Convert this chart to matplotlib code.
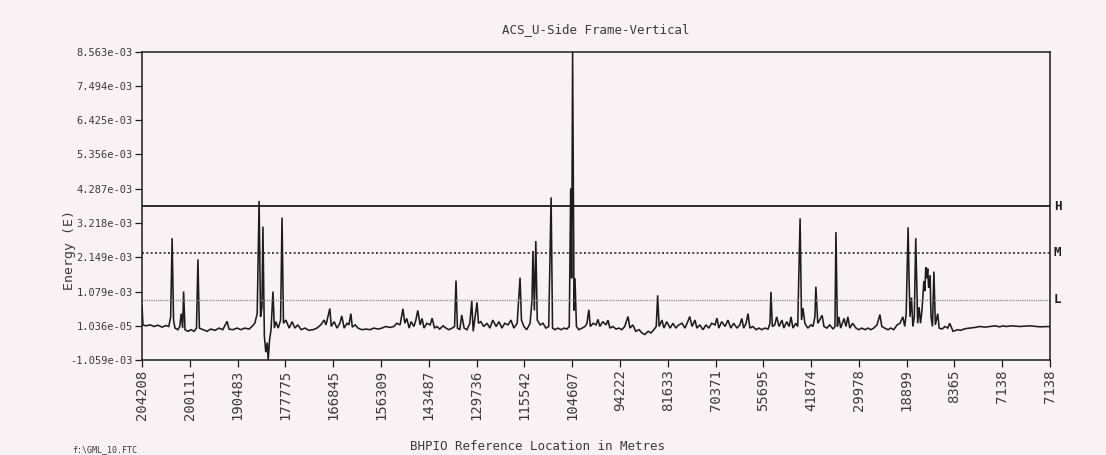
import matplotlib
matplotlib.use("Agg")
import matplotlib.pyplot as plt
import numpy as np

# ---------------- data ----------------
title = "ACS_U-Side Frame-Vertical"
x_tick_labels = ["204208", "200111", "190483", "177775", "166845", "156309",
                 "143487", "129736", "115542", "104607", "94222", "81633",
                 "70371", "55695", "41874", "29978", "18899", "8365",
                 "7138", "7138"]
y_tick_values = [-1.059e-03, 1.036e-05, 1.079e-03, 2.149e-03, 3.218e-03,
                 4.287e-03, 5.356e-03, 6.425e-03, 7.494e-03, 8.563e-03]
y_tick_labels = ["-1.059e-03", "1.036e-05", "1.079e-03", "2.149e-03",
                 "3.218e-03", "4.287e-03", "5.356e-03", "6.425e-03",
                 "7.494e-03", "8.563e-03"]
threshold_names = ["H", "M", "L"]
threshold_values = [3.75e-03, 2.30e-03, 0.83e-03]

# position along track (in units of x-tick spacing) and energy (x1e-3)
position = [
    0.00, 0.02, 0.08, 0.17, 0.25, 0.33, 0.42, 0.50, 0.56, 0.60, 0.63, 0.66,
    0.69, 0.75, 0.79, 0.82, 0.85, 0.87, 0.90, 0.96, 1.03, 1.09, 1.14, 1.17,
    1.20,
    1.28, 1.36, 1.44, 1.53, 1.61, 1.69, 1.78, 1.82, 1.90, 1.99, 2.07, 2.15,
    2.24, 2.30, 2.36, 2.41, 2.45, 2.48, 2.51, 2.53, 2.56, 2.59, 2.62, 2.64,
    2.67, 2.70, 2.74, 2.77, 2.80, 2.85, 2.90, 2.93, 2.96, 3.01, 3.08, 3.14,
    3.20, 3.26,
    3.33, 3.41, 3.49, 3.58, 3.66, 3.74, 3.81, 3.85, 3.89, 3.93, 3.96, 4.02,
    4.08, 4.14, 4.18, 4.23, 4.29, 4.33, 4.37, 4.40, 4.46, 4.52, 4.60, 4.69,
    4.77, 4.85, 4.94, 5.02, 5.10, 5.19, 5.27, 5.33, 5.40, 5.46, 5.50, 5.54,
    5.59, 5.63, 5.69, 5.73, 5.77, 5.82, 5.86, 5.90, 5.96, 6.03, 6.07, 6.12,
    6.17, 6.23, 6.30, 6.36, 6.42, 6.49, 6.54, 6.57, 6.60,
    6.65, 6.69, 6.74, 6.80, 6.86, 6.90, 6.93, 6.97, 7.01, 7.04, 7.09, 7.15,
    7.22, 7.28, 7.34, 7.41, 7.47, 7.53, 7.59, 7.66, 7.72, 7.78, 7.85, 7.91,
    7.94, 7.99, 8.05, 8.12, 8.16, 8.18, 8.21, 8.24, 8.27, 8.33, 8.39, 8.45,
    8.51, 8.56, 8.59, 8.64, 8.70, 8.77, 8.83, 8.89, 8.94, 8.97, 8.99, 9.01,
    9.04, 9.06, 9.09,
    9.14, 9.21, 9.27, 9.31, 9.35, 9.38, 9.44, 9.50, 9.54, 9.58, 9.64, 9.71,
    9.75, 9.79, 9.85, 9.92, 9.98, 10.04, 10.10, 10.17, 10.21, 10.27, 10.33,
    10.40, 10.46, 10.52, 10.59, 10.65, 10.71, 10.76, 10.79, 10.82, 10.88,
    10.92, 10.98, 11.05, 11.11, 11.17, 11.23, 11.30, 11.36, 11.42, 11.46,
    11.51, 11.57, 11.61, 11.67, 11.74, 11.80, 11.86, 11.92, 11.99, 12.03,
    12.07, 12.13, 12.20, 12.26, 12.32, 12.38, 12.45, 12.51, 12.55, 12.59,
    12.64, 12.68, 12.72, 12.78, 12.85, 12.91,
    12.97, 13.03, 13.10, 13.14, 13.16, 13.19, 13.24, 13.28, 13.33, 13.39,
    13.43, 13.49, 13.54, 13.58, 13.62, 13.68, 13.72, 13.77, 13.80, 13.83,
    13.87, 13.93, 14.00, 14.04, 14.08, 14.10, 14.14, 14.18, 14.23, 14.27,
    14.33, 14.39, 14.46, 14.50, 14.52, 14.55, 14.58, 14.62, 14.69, 14.73,
    14.77, 14.81, 14.87, 14.94, 15.00, 15.06, 15.13, 15.19, 15.25, 15.31,
    15.38, 15.44, 15.48, 15.54, 15.61, 15.67, 15.73, 15.80, 15.86, 15.92,
    15.96, 15.99, 16.03, 16.05, 16.07, 16.10, 16.13, 16.16, 16.19, 16.23,
    16.26, 16.29, 16.32, 16.34, 16.36, 16.38, 16.40, 16.42, 16.44, 16.46,
    16.49, 16.51, 16.54, 16.57, 16.60, 16.65, 16.68, 16.74, 16.80, 16.86,
    16.90,
    16.97, 17.03, 17.07, 17.13, 17.20, 17.26, 17.32, 17.43, 17.53, 17.64,
    17.74, 17.85, 17.95, 18.01, 18.08, 18.20, 18.37, 18.58, 18.79, 19.00,
]
energy_e3 = [
    0.65, 0.05, 0.02, 0.05, 0.00, 0.04, -0.02, 0.03, 0.00, 0.30, 2.75, 0.20,
    -0.05, -0.10, 0.00, 0.40, -0.05, 1.09, -0.10, -0.15, -0.10, -0.15, -0.05, 2.09,
    -0.05,
    -0.10, -0.15, -0.08, -0.12, -0.05, -0.10, 0.16, -0.08, -0.10, -0.05, -0.10, -0.05,
    -0.08, 0.00, 0.10, 0.40, 3.91, 0.30, 0.60, 3.11, -0.30, -0.80, -0.50, -1.06,
    -0.40, -0.10, 1.09, -0.05, 0.15, -0.05, 0.20, 3.39, 0.10, 0.20, -0.05, 0.15,
    -0.05, 0.05,
    -0.10, -0.05, -0.12, -0.10, -0.05, 0.05, 0.20, 0.05, 0.30, 0.56, 0.00, 0.15,
    -0.05, 0.10, 0.33, -0.05, 0.10, 0.05, 0.40, -0.02, 0.05, -0.05, -0.10, -0.08,
    -0.10, -0.05, -0.08, -0.05, 0.00, -0.03, 0.00, 0.10, 0.05, 0.55, 0.10, 0.25,
    -0.05, 0.15, 0.00, 0.20, 0.50, 0.05, 0.25, -0.05, 0.10, 0.05, 0.26, -0.05,
    0.00, -0.08, 0.02, -0.05, -0.10, -0.05, 0.00, 1.43, -0.05,
    -0.10, 0.36, -0.05, -0.10, 0.10, 0.80, -0.15, 0.30, 0.75, 0.10, 0.15, 0.00,
    0.10, -0.05, 0.20, 0.00, 0.15, -0.05, 0.10, 0.05, 0.20, -0.05, 0.10, 1.52,
    0.20, 0.00, -0.10, 0.10, 0.80, 2.35, 0.50, 2.66, 0.20, 0.05, 0.10, -0.05,
    0.00, 4.02, -0.05, -0.10, -0.05, -0.10, -0.05, -0.08, 0.00, 4.30, 1.50, 8.56,
    0.50, 1.50, 0.00,
    -0.10, -0.05, 0.00, 0.10, 0.52, 0.00, 0.10, 0.05, 0.22, 0.00, 0.15, 0.05,
    0.20, -0.05, 0.00, -0.08, -0.05, -0.10, 0.00, 0.31, -0.05, 0.05, -0.15,
    -0.10, -0.20, -0.25, -0.15, -0.20, -0.10, 0.00, 0.97, 0.00, 0.20,
    -0.05, 0.15, -0.05, 0.10, -0.05, 0.05, 0.10, -0.05, 0.15, 0.31,
    0.00, 0.20, -0.05, 0.05, -0.10, 0.05, -0.05, 0.10, 0.05, 0.26,
    -0.05, 0.15, 0.00, 0.20, -0.05, 0.10, -0.05, 0.05, 0.25, -0.05,
    0.10, 0.40, -0.05, 0.00, -0.10, -0.05,
    -0.10, -0.05, -0.08, 0.10, 1.08, 0.00, 0.05, 0.30, 0.00, 0.20,
    -0.05, 0.15, 0.00, 0.30, -0.05, 0.10, 0.00, 3.37, 0.20, 0.57,
    0.10, -0.05, 0.05, 0.00, 0.30, 1.24, 0.10, 0.20, 0.35, 0.00,
    -0.05, 0.05, -0.08, 0.00, 2.94, 0.00, 0.30, -0.05, 0.25, 0.00,
    0.30, -0.05, 0.10, -0.05, -0.10, -0.05, -0.10, -0.05, -0.10, -0.05,
    0.05, 0.37, 0.00, -0.05, -0.10, -0.05, -0.10, 0.05, 0.10, 0.30,
    0.00, 0.40, 3.09, 1.50, 0.30, 0.90, 0.00, 0.30, 2.75, 0.10,
    0.60, 0.10, 0.50, 0.96, 1.40, 1.10, 1.85, 1.50, 1.80, 1.20,
    1.60, 0.30, 0.00, 1.71, 0.05, 0.40, -0.05, -0.08, 0.00, -0.05,
    0.10,
    -0.15, -0.12, -0.10, -0.12, -0.08, -0.06, -0.05, -0.03, 0.00, -0.02,
    0.00, 0.02, -0.01, 0.02, 0.00, 0.02, 0.00, 0.02, -0.01, 0.00,
]

# ---------------- styling ----------------
bg = "#f9f2f4"
ink = "#1c1c1c"
txt = "#3a3a3a"
mono = ["DejaVu Sans Mono"]

fig = plt.figure(figsize=(11.06, 4.55), dpi=100, facecolor=bg)
ax = fig.add_axes([0.1284, 0.2077, 0.8210, 0.6791], facecolor=bg)

x = np.array(position)
y = np.array(energy_e3) * 1e-3
ax.plot(x, y, color=ink, lw=1.15, solid_joinstyle="miter")

# threshold lines
styles = {"H": dict(ls="-", lw=1.3, color=ink),
          "M": dict(ls=(0, (1.2, 1.4)), lw=1.2, color="#2a2a2a"),
          "L": dict(ls=(0, (0.8, 0.8)), lw=1.0, color="#888888")}
for name, val in zip(threshold_names, threshold_values):
    ax.axhline(val, **styles[name])
    ax.text(1.004, val, name, transform=ax.get_yaxis_transform(),
            ha="left", va="center", fontsize=9, fontweight="bold",
            family=mono, color=ink)

ax.set_xlim(0, len(x_tick_labels) - 1)
ax.set_ylim(y_tick_values[0], y_tick_values[-1])

ax.set_yticks(y_tick_values)
ax.set_yticklabels(y_tick_labels, family=mono, fontsize=7.5, color=txt)
ax.set_xticks(np.arange(len(x_tick_labels)))
ax.set_xticklabels(x_tick_labels, family=mono, fontsize=10, color=txt,
                   rotation=90)
ax.tick_params(axis="both", direction="out", length=5, width=0.9,
               color=ink, pad=1.5)

for s in ax.spines.values():
    s.set_color(ink)
    s.set_linewidth(1.1)

ax.set_title(title, family=mono, fontsize=9, color=txt, pad=13)
fig.text(0.063, 0.451, "Energy (E)", rotation=90, ha="center", va="center",
         family=mono, fontsize=9.5, color=txt)
fig.text(0.486, 0.018, "BHPIO Reference Location in Metres", ha="center",
         va="center", family=mono, fontsize=9, color=txt)
fig.text(0.065, 0.012, "f:\\GML_10.FTC", ha="left", va="center",
         family=mono, fontsize=6, color=txt)

fig.savefig("out.png", dpi=100, facecolor=bg)
